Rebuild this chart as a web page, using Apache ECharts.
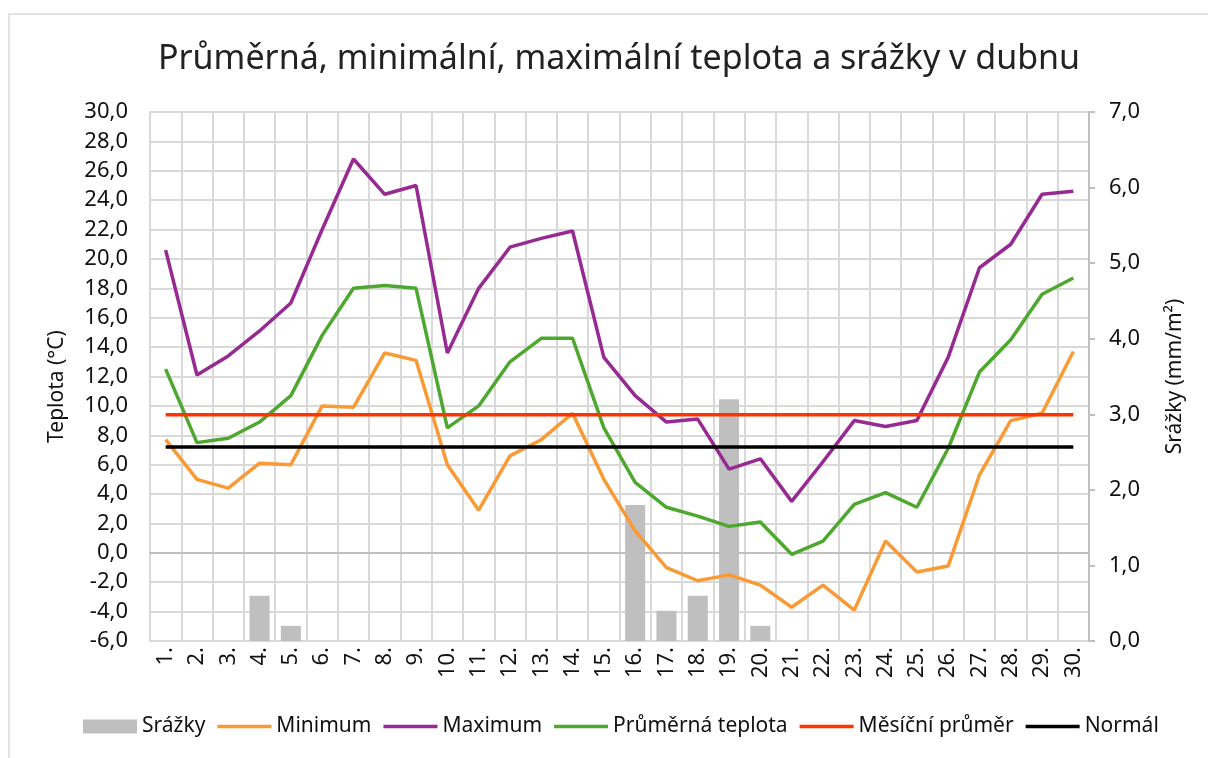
<!DOCTYPE html>
<html>
<head>
<meta charset="utf-8">
<script src="https://cdn.jsdelivr.net/npm/echarts@6/dist/echarts.min.js"></script>
<style>
  html, body { margin: 0; padding: 0; background: #fff; }
  #chart { width: 1208px; height: 758px; }
</style>
</head>
<body>
<div id="chart"></div>
<script>
var days = ['1.', '2.', '3.', '4.', '5.', '6.', '7.', '8.', '9.', '10.',
  '11.', '12.', '13.', '14.', '15.', '16.', '17.', '18.', '19.', '20.',
  '21.', '22.', '23.', '24.', '25.', '26.', '27.', '28.', '29.', '30.'];
var srazky = [0, 0, 0, 0.6, 0.2, 0, 0, 0, 0, 0,
  0, 0, 0, 0, 0, 1.8, 0.4, 0.6, 3.2, 0.2,
  0, 0, 0, 0, 0, 0, 0, 0, 0, 0];
var minimum = [7.7, 5.0, 4.4, 6.1, 6.0, 10.0, 9.9, 13.6, 13.1, 6.0,
  2.9, 6.6, 7.7, 9.5, 5.0, 1.5, -1.0, -1.9, -1.5, -2.2,
  -3.7, -2.2, -3.9, 0.8, -1.3, -0.9, 5.3, 9.0, 9.5, 13.7];
var maximum = [20.6, 12.1, 13.4, 15.1, 17.0, 22.0, 26.8, 24.4, 25.0, 13.6,
  18.0, 20.8, 21.4, 21.9, 13.3, 10.7, 8.9, 9.1, 5.7, 6.4,
  3.5, 6.2, 9.0, 8.6, 9.0, 13.3, 19.4, 21.0, 24.4, 24.6];
var prumer = [12.5, 7.5, 7.8, 8.9, 10.7, 14.8, 18.0, 18.2, 18.0, 8.5,
  10.0, 13.0, 14.6, 14.6, 8.5, 4.8, 3.1, 2.5, 1.8, 2.1,
  -0.1, 0.8, 3.3, 4.1, 3.1, 7.1, 12.3, 14.5, 17.6, 18.7];
var mesicniPrumer = [9.4, 9.4, 9.4, 9.4, 9.4, 9.4, 9.4, 9.4, 9.4, 9.4,
  9.4, 9.4, 9.4, 9.4, 9.4, 9.4, 9.4, 9.4, 9.4, 9.4,
  9.4, 9.4, 9.4, 9.4, 9.4, 9.4, 9.4, 9.4, 9.4, 9.4];
var normal = [7.2, 7.2, 7.2, 7.2, 7.2, 7.2, 7.2, 7.2, 7.2, 7.2,
  7.2, 7.2, 7.2, 7.2, 7.2, 7.2, 7.2, 7.2, 7.2, 7.2,
  7.2, 7.2, 7.2, 7.2, 7.2, 7.2, 7.2, 7.2, 7.2, 7.2];

var font = '"Noto Sans", sans-serif';
var fmt = function (v) { return v.toFixed(1).replace('.', ','); };
var lineIcon = 'path://M0,0h54v3.5h-54z';

function lineSeries(name, data, color) {
  return {
    name: name, type: 'line', yAxisIndex: 0, data: data,
    symbol: 'none', smooth: false,
    lineStyle: { color: color, width: 3.5 },
    itemStyle: { color: color }
  };
}

var myChart = echarts.init(document.getElementById('chart'));
myChart.setOption({
  animation: false,
  textStyle: { fontFamily: font },
  graphic: [{
    type: 'rect',
    shape: { x: 9, y: 14, width: 1220, height: 770 },
    style: { fill: 'none', stroke: '#d9d9d9', lineWidth: 1.5 },
    silent: true
  }],
  title: {
    text: 'Průměrná, minimální, maximální teplota a srážky v dubnu',
    left: 153, top: 37,
    textStyle: { fontFamily: font, fontSize: 34, fontWeight: 'normal', color: '#222' }
  },
  legend: {
    bottom: 16, left: 78, itemGap: 12,
    itemWidth: 54, itemHeight: 14,
    textStyle: { fontFamily: font, fontSize: 21, color: '#111' },
    data: [
      { name: 'Srážky', icon: 'rect' },
      { name: 'Minimum', icon: lineIcon },
      { name: 'Maximum', icon: lineIcon },
      { name: 'Průměrná teplota', icon: lineIcon },
      { name: 'Měsíční průměr', icon: lineIcon },
      { name: 'Normál', icon: lineIcon }
    ]
  },
  grid: { left: 150, right: 119, top: 112, bottom: 117 },
  xAxis: {
    type: 'category', data: days, boundaryGap: true,
    axisLine: { lineStyle: { color: '#bfbfbf', width: 2 } },
    axisTick: { show: false },
    axisLabel: { rotate: 90, fontSize: 22, color: '#111', margin: 6, fontFamily: font },
    splitLine: { show: true, interval: 0, lineStyle: { color: '#d9d9d9', width: 2 } }
  },
  yAxis: [{
    type: 'value', min: -6, max: 30, interval: 2,
    name: 'Teplota (°C)', nameLocation: 'middle', nameGap: 82,
    nameTextStyle: { fontSize: 21, color: '#111', fontFamily: font, padding: [0, 0, 0, -20] },
    axisLine: { show: true, lineStyle: { color: '#d9d9d9', width: 2 } },
    axisTick: { show: false },
    axisLabel: { fontSize: 22, color: '#111', margin: 22, formatter: fmt, fontFamily: font },
    splitLine: { lineStyle: { color: '#d9d9d9', width: 2 } }
  }, {
    type: 'value', min: 0, max: 7, interval: 1, position: 'right',
    name: 'Srážky (mm/m²)', nameLocation: 'middle', nameGap: 76, nameRotate: 90,
    nameTextStyle: { fontSize: 21, color: '#111', fontFamily: font },
    axisLine: { show: true, lineStyle: { color: '#bfbfbf', width: 2 } },
    axisTick: { show: true, length: 6, lineStyle: { color: '#bfbfbf', width: 2 } },
    axisLabel: { fontSize: 22, color: '#111', margin: 20, formatter: fmt, fontFamily: font },
    splitLine: { show: false }
  }],
  series: [
    {
      name: 'Srážky', type: 'bar', yAxisIndex: 1, data: srazky,
      barWidth: '64%', itemStyle: { color: '#bfbfbf' }
    },
    lineSeries('Minimum', minimum, '#f99a35'),
    lineSeries('Maximum', maximum, '#972a92'),
    lineSeries('Průměrná teplota', prumer, '#4ea72e'),
    lineSeries('Měsíční průměr', mesicniPrumer, '#ff3300'),
    lineSeries('Normál', normal, '#000000')
  ]
});
</script>
</body>
</html>
